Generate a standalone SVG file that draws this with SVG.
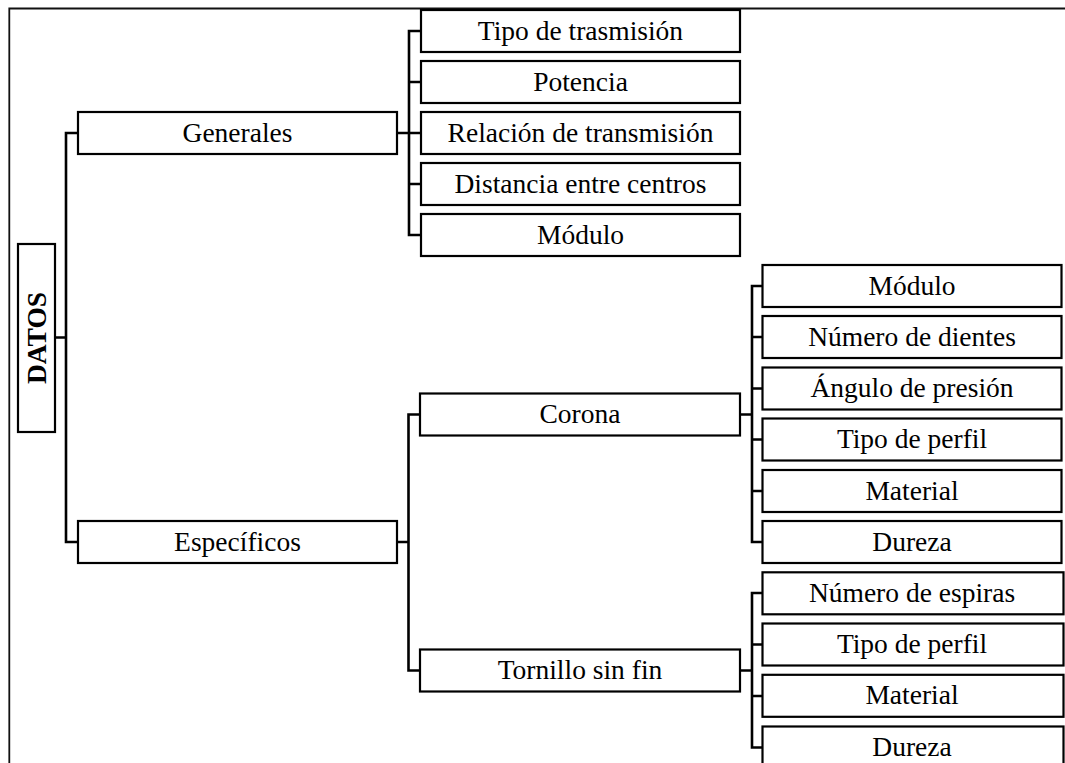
<svg xmlns="http://www.w3.org/2000/svg" width="1065" height="763" viewBox="0 0 1065 763">
  <style>
    .box { fill: #ffffff; stroke: #000000; stroke-width: 2.2; }
    .lbl { font-family: "Liberation Serif", "Times New Roman", serif; font-size: 27.5px; fill: #000000; text-anchor: middle; }
    .root { font-weight: bold; }
    .wire { fill: none; stroke: #000000; stroke-width: 2.6; stroke-linejoin: miter; }
    .frame { fill: none; stroke: #111111; stroke-width: 1.8; }
  </style>

  <!-- page frame (left and top rules) -->
  <path class="frame" d="M9.3,763 V8.5 H1065"/>

  <!-- connectors -->
  <g id="connectors">
    <!-- root trunk -->
    <path class="wire" d="M55,337.5 H66 M78,133 H66 V542 H78"/>
    <!-- Generales branch -->
    <path class="wire" d="M397,133 H409 M421,31 H409 V235 H421 M409,82 H421 M409,133 H421 M409,184 H421"/>
    <!-- Especificos branch -->
    <path class="wire" d="M397,542 H408.5 M420,414.5 H408.5 V670.5 H420"/>
    <!-- Corona branch -->
    <path class="wire" d="M740,414.5 H752 M762.5,286 H752 V542 H762.5 M752,337 H762.5 M752,388.5 H762.5 M752,439.5 H762.5 M752,491 H762.5"/>
    <!-- Tornillo sin fin branch -->
    <path class="wire" d="M740,670.5 H752 M762.5,593 H752 V747.5 H762.5 M752,644.5 H762.5 M752,696 H762.5"/>
  </g>

  <!-- root -->
  <g id="node-datos">
    <rect class="box" x="18" y="244" width="37" height="188"/>
    <text class="lbl root" transform="translate(45.5,338) rotate(-90)">DATOS</text>
  </g>

  <!-- level 1 -->
  <g id="node-generales">
    <rect class="box" x="78" y="112" width="319" height="42"/>
    <text class="lbl" x="237.5" y="141.5">Generales</text>
  </g>
  <g id="node-especificos">
    <rect class="box" x="78" y="521" width="319" height="42"/>
    <text class="lbl" x="237.5" y="550.5">Específicos</text>
  </g>

  <!-- Generales children -->
  <g id="node-tipo-trasmision">
    <rect class="box" x="421" y="10" width="319" height="42"/>
    <text class="lbl" x="580.5" y="39.5">Tipo de trasmisión</text>
  </g>
  <g id="node-potencia">
    <rect class="box" x="421" y="61" width="319" height="42"/>
    <text class="lbl" x="580.5" y="90.5">Potencia</text>
  </g>
  <g id="node-relacion">
    <rect class="box" x="421" y="112" width="319" height="42"/>
    <text class="lbl" x="580.5" y="141.5">Relación de transmisión</text>
  </g>
  <g id="node-distancia">
    <rect class="box" x="421" y="163" width="319" height="42"/>
    <text class="lbl" x="580.5" y="192.5">Distancia entre centros</text>
  </g>
  <g id="node-modulo-general">
    <rect class="box" x="421" y="214" width="319" height="42"/>
    <text class="lbl" x="580.5" y="243.5">Módulo</text>
  </g>

  <!-- Especificos children -->
  <g id="node-corona">
    <rect class="box" x="420" y="393.5" width="320" height="42"/>
    <text class="lbl" x="580" y="423">Corona</text>
  </g>
  <g id="node-tornillo">
    <rect class="box" x="420" y="649.5" width="320" height="42"/>
    <text class="lbl" x="580" y="679">Tornillo sin fin</text>
  </g>

  <!-- Corona children -->
  <g id="node-corona-modulo">
    <rect class="box" x="762.5" y="265" width="299" height="42"/>
    <text class="lbl" x="912" y="294.5">Módulo</text>
  </g>
  <g id="node-corona-dientes">
    <rect class="box" x="762.5" y="316" width="299" height="42"/>
    <text class="lbl" x="912" y="345.5">Número de dientes</text>
  </g>
  <g id="node-corona-angulo">
    <rect class="box" x="762.5" y="367.5" width="299" height="42"/>
    <text class="lbl" x="912" y="397">Ángulo de presión</text>
  </g>
  <g id="node-corona-perfil">
    <rect class="box" x="762.5" y="418.5" width="299" height="42"/>
    <text class="lbl" x="912" y="448">Tipo de perfil</text>
  </g>
  <g id="node-corona-material">
    <rect class="box" x="762.5" y="470" width="299" height="42"/>
    <text class="lbl" x="912" y="499.5">Material</text>
  </g>
  <g id="node-corona-dureza">
    <rect class="box" x="762.5" y="521" width="299" height="42"/>
    <text class="lbl" x="912" y="550.5">Dureza</text>
  </g>

  <!-- Tornillo sin fin children -->
  <g id="node-tornillo-espiras">
    <rect class="box" x="762.5" y="572.3" width="301" height="42"/>
    <text class="lbl" x="912" y="601.8">Número de espiras</text>
  </g>
  <g id="node-tornillo-perfil">
    <rect class="box" x="762.5" y="623.5" width="301" height="42"/>
    <text class="lbl" x="912" y="653">Tipo de perfil</text>
  </g>
  <g id="node-tornillo-material">
    <rect class="box" x="762.5" y="674.8" width="301" height="42"/>
    <text class="lbl" x="912" y="704.3">Material</text>
  </g>
  <g id="node-tornillo-dureza">
    <rect class="box" x="762.5" y="726.5" width="301" height="42"/>
    <text class="lbl" x="912" y="756">Dureza</text>
  </g>
</svg>
